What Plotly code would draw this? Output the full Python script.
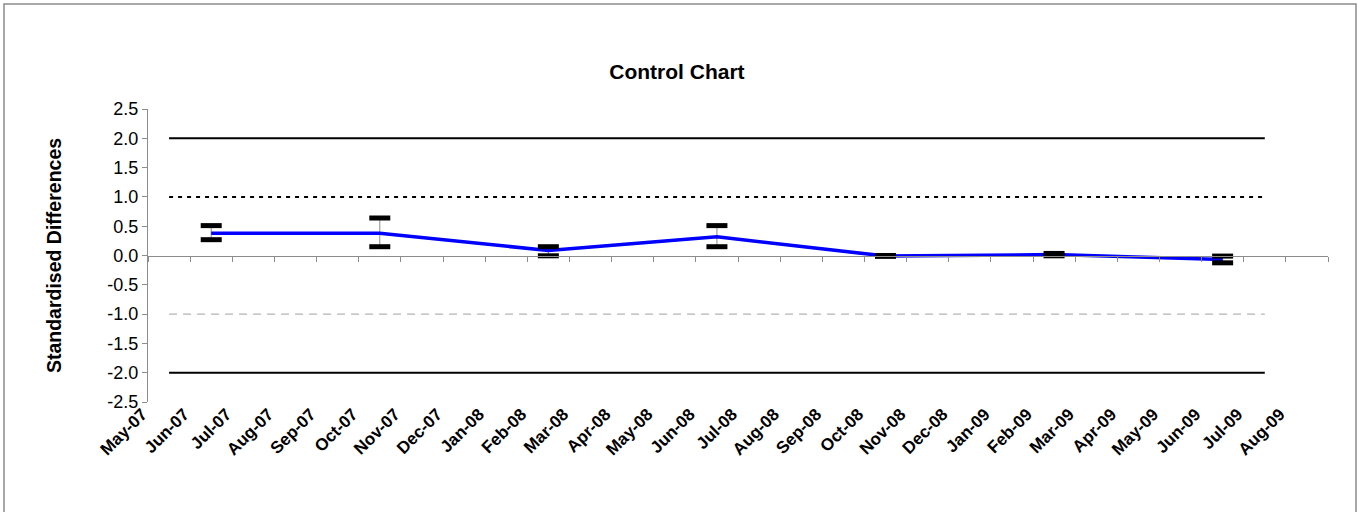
import plotly.graph_objects as go

# ---- data ----
months = ["May-07", "Jun-07", "Jul-07", "Aug-07", "Sep-07", "Oct-07", "Nov-07",
          "Dec-07", "Jan-08", "Feb-08", "Mar-08", "Apr-08", "May-08", "Jun-08",
          "Jul-08", "Aug-08", "Sep-08", "Oct-08", "Nov-08", "Dec-08", "Jan-09",
          "Feb-09", "Mar-09", "Apr-09", "May-09", "Jun-09", "Jul-09", "Aug-09"]
point_months = ["Jun-07", "Oct-07", "Feb-08", "Jun-08", "Oct-08", "Feb-09", "Jun-09"]
values = [0.38, 0.38, 0.085, 0.32, -0.01, 0.015, -0.07]
upper = [0.51, 0.64, 0.15, 0.51, 0.0, 0.035, -0.01]
lower = [0.27, 0.15, -0.005, 0.15, -0.015, -0.005, -0.125]
limit_months = months[:27]  # May-07 .. Jul-09
ucl, uwl, lwl, lcl = 2.0, 1.0, -1.0, -2.0
y_ticks = [-2.5, -2.0, -1.5, -1.0, -0.5, 0.0, 0.5, 1.0, 1.5, 2.0, 2.5]
y_ticktext = ["%.1f" % v for v in y_ticks]

FONT = "Arial, Liberation Sans, sans-serif"
GRAY = "#8c8c8c"

idx = list(range(len(months)))
px_ = [months.index(m) for m in point_months]
lx = [months.index(m) for m in limit_months]

fig = go.Figure()

# control / warning limit lines (on the axis that crosses at zero)
fig.add_trace(go.Scatter(x=lx, y=[ucl] * len(lx), xaxis="x2", mode="lines",
                         line=dict(color="black", width=2), hoverinfo="skip"))
fig.add_trace(go.Scatter(x=lx, y=[lcl] * len(lx), xaxis="x2", mode="lines",
                         line=dict(color="black", width=2), hoverinfo="skip"))
fig.add_trace(go.Scatter(x=lx, y=[uwl] * len(lx), xaxis="x2", mode="lines",
                         line=dict(color="black", width=2, dash="4px,5px"), hoverinfo="skip"))
fig.add_trace(go.Scatter(x=lx, y=[lwl] * len(lx), xaxis="x2", mode="lines",
                         line=dict(color="#a0a0a0", width=1, dash="8px,6px"), hoverinfo="skip"))

# error bar stems
fig.add_trace(go.Scatter(
    x=px_, y=values, mode="markers", marker=dict(size=0.1, opacity=0),
    error_y=dict(type="data", symmetric=False,
                 array=[u - v for u, v in zip(upper, values)],
                 arrayminus=[v - l for v, l in zip(values, lower)],
                 color=GRAY, thickness=1, width=0),
    hoverinfo="skip"))

# main series
fig.add_trace(go.Scatter(x=px_, y=values, mode="lines",
                         line=dict(color="#0000FF", width=3.5)))

# error bar caps
fig.add_trace(go.Scatter(
    x=px_ + px_, y=upper + lower, mode="markers",
    marker=dict(symbol="line-ew", size=15, color="black",
                line=dict(width=5, color="black")),
    hoverinfo="skip"))

L, R, T, B = 148, 34, 109, 110
W, H = 1362, 512
pw, ph = W - L - R, H - T - B

fig.update_layout(
    width=W, height=H,
    margin=dict(l=L, r=R, t=T, b=B),
    paper_bgcolor="white", plot_bgcolor="white",
    showlegend=False,
    font=dict(family=FONT, color="black"),
    title=dict(text="<b>Control Chart</b>", font=dict(size=21, family=FONT),
               x=0.497, xref="container", xanchor="center",
               y=1 - 72 / H, yref="container", yanchor="middle"),
    xaxis=dict(range=[-0.5, 27.5], tickmode="array", tickvals=idx,
               ticktext=["<b>%s</b>" % m for m in months], tickangle=-45,
               tickfont=dict(size=17, family=FONT, color="black"),
               ticklabelshift=-27, ticklabelstandoff=-2,
               showline=False, ticks="", showgrid=False, zeroline=False),
    xaxis2=dict(range=[-0.5, 27.5], overlaying="x", anchor="free", position=0.5,
                tickmode="array", tickvals=[i - 0.5 for i in range(len(months) + 1)],
                showticklabels=False, ticks="outside", ticklen=5, tickcolor=GRAY,
                showline=True, linecolor=GRAY, linewidth=1,
                showgrid=False, zeroline=False),
    yaxis=dict(range=[-2.5, 2.5], tickmode="array", tickvals=y_ticks,
               ticktext=y_ticktext, ticks="outside", ticklen=5, tickcolor=GRAY,
               showline=True, linecolor=GRAY, linewidth=1,
               showgrid=False, zeroline=False,
               tickfont=dict(size=18, family=FONT, color="black"),
               title=dict(text="<b>Standardised Differences</b>",
                          font=dict(size=19.5, family=FONT), standoff=40)),
    shapes=[dict(type="rect", xref="paper", yref="paper",
                 x0=(4 - L) / pw, x1=(1356 - L) / pw,
                 y0=-(H + 10 - (T + ph)) / ph, y1=(T + ph - 4) / ph,
                 line=dict(color=GRAY, width=1.5), fillcolor="rgba(0,0,0,0)",
                 layer="below")],
)

fig.write_html("out.html", config={"displayModeBar": False},
               post_script="document.body.style.margin='0';document.body.style.padding='0';")
